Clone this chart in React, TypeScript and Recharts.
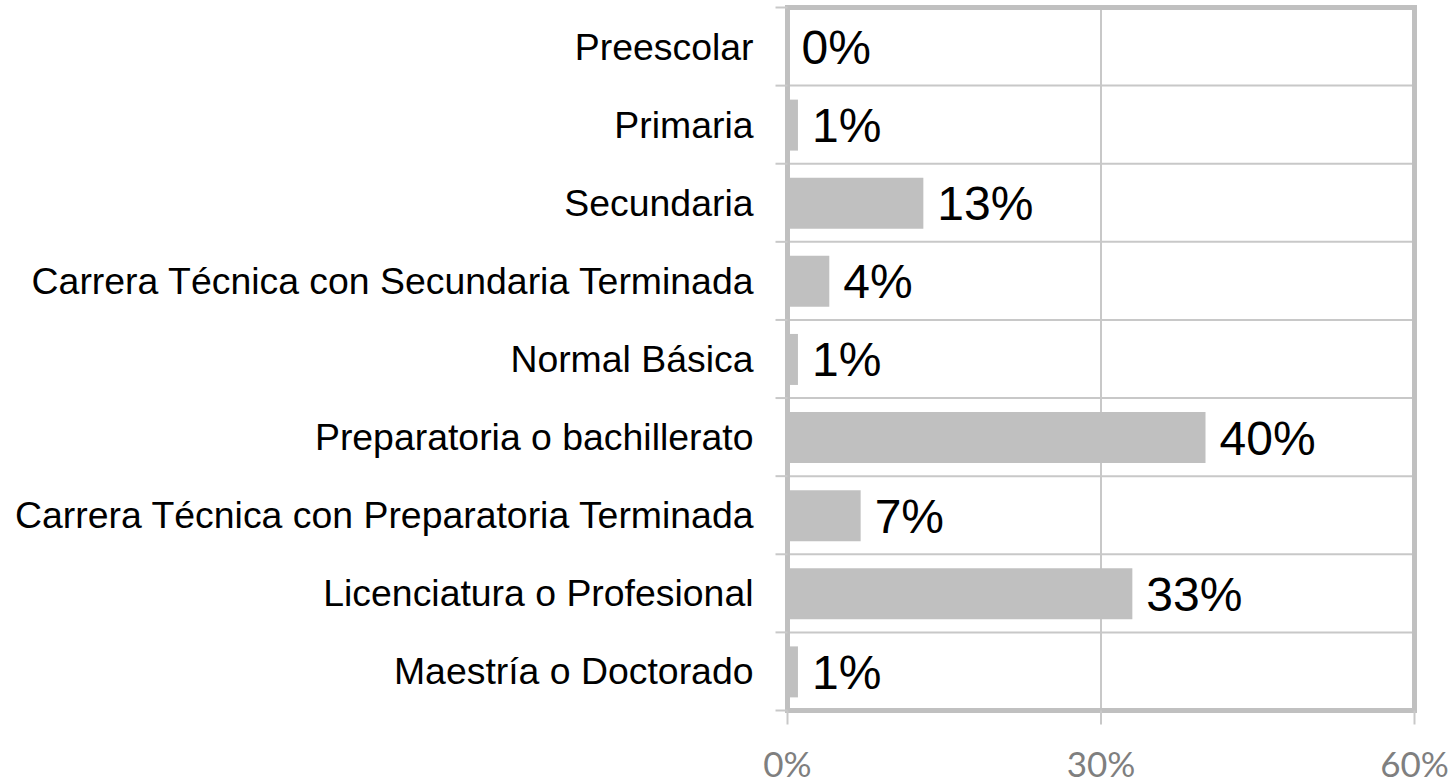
import React from "react";
import {
  BarChart,
  Bar,
  XAxis,
  YAxis,
  CartesianGrid,
  LabelList,
  ReferenceArea,
} from "recharts";

const categories = [
  "Preescolar",
  "Primaria",
  "Secundaria",
  "Carrera Técnica con Secundaria Terminada",
  "Normal Básica",
  "Preparatoria o bachillerato",
  "Carrera Técnica con Preparatoria Terminada",
  "Licenciatura o Profesional",
  "Maestría o Doctorado",
];
const values = [0, 1, 13, 4, 1, 40, 7, 33, 1];
const xTicks = [0, 30, 60];

const data = categories.map((name, i) => ({ name, value: values[i] }));

const GRID = "#c8c8c8";
const BORDER = "#c0c0c0";
const ARIAL = "'Liberation Sans', Arial, sans-serif";

const YTick = (props: any) => {
  const { x, y, payload, index, visibleTicksCount, height } = props;
  const count = visibleTicksCount || categories.length;
  const band = (typeof height === "number" && height > 0 ? height : 703) / count;
  const lx1 = x + 22;
  const lx2 = x + 34;
  return (
    <g>
      <text
        x={x}
        y={y}
        dy={13}
        textAnchor="end"
        fontFamily={ARIAL}
        fontSize={37.4}
        fill="#000"
      >
        {payload.value}
      </text>
      <line x1={lx1} x2={lx2} y1={y - band / 2} y2={y - band / 2} stroke={GRID} strokeWidth={2} />
      {index === count - 1 && (
        <line x1={lx1} x2={lx2} y1={y + band / 2} y2={y + band / 2} stroke={GRID} strokeWidth={2} />
      )}
    </g>
  );
};

const XTick = (props: any) => {
  const { x, payload } = props;
  return (
    <text
      x={x}
      y={777}
      textAnchor="middle"
      fontFamily="Lato, 'Open Sans', sans-serif"
      fontSize={35}
      fill="#7f7f7f"
    >
      {payload.value + "%"}
    </text>
  );
};

const ValueLabel = (props: any) => {
  const { x, y, width, height, value } = props;
  const xx = Number(x) + Number(width || 0) + 14;
  const yy = Number(y) + Number(height || 0) / 2;
  return (
    <text
      x={xx}
      y={yy}
      dy={17}
      textAnchor="start"
      fontFamily={ARIAL}
      fontSize={48}
      fill="#000"
    >
      {value + "%"}
    </text>
  );
};

export default function App() {
  return (
    <div style={{ position: "absolute", left: 0, top: 0, background: "#fff" }}>
      <BarChart
        width={1453}
        height={783}
        data={data}
        layout="vertical"
        margin={{ top: 7.5, right: 38.5, bottom: 0, left: 0 }}
      >
        <CartesianGrid
          stroke={GRID}
          strokeWidth={2}
          horizontalCoordinatesGenerator={({ offset }: any) =>
            categories.slice(1).map((_, i) => offset.top + ((i + 1) * offset.height) / categories.length)
          }
        />
        <XAxis
          type="number"
          domain={[0, 60]}
          ticks={xTicks}
          interval={0}
          axisLine={false}
          tickLine={{ stroke: GRID, strokeWidth: 2 }}
          tickSize={14}
          tickMargin={40}
          height={72.5}
          tick={<XTick />}
        />
        <YAxis
          type="category"
          dataKey="name"
          width={787.5}
          interval={0}
          axisLine={false}
          tickLine={false}
          tickSize={11}
          tickMargin={23}
          tick={<YTick />}
        />
        <Bar dataKey="value" fill={BORDER} barSize={51} minPointSize={0.01} isAnimationActive={false}>
          <LabelList dataKey="value" content={<ValueLabel />} />
        </Bar>
        <ReferenceArea
          x1={0}
          x2={60}
          fill="none"
          fillOpacity={0}
          stroke={BORDER}
          strokeWidth={5}
          ifOverflow="visible"
        />
      </BarChart>
    </div>
  );
}
